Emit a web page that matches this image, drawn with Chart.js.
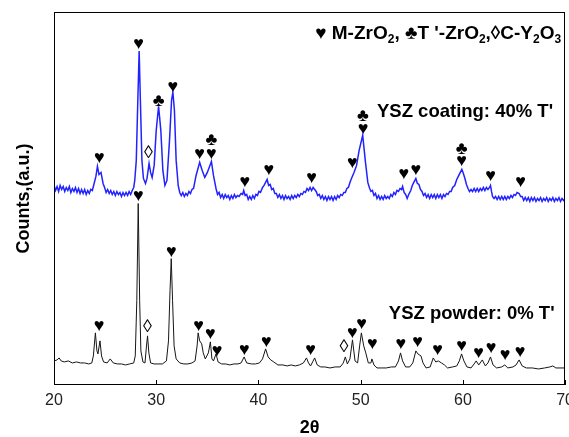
<!DOCTYPE html>
<html><head><meta charset="utf-8">
<script src="https://cdn.jsdelivr.net/npm/chart.js@4"></script>
<style>html,body{margin:0;padding:0;background:#fff;overflow:hidden}#wrap{width:580px;height:437px;position:relative}</style>
</head><body><div id="wrap"><canvas id="c"></canvas></div>
<script>
// x axis: 2θ (degrees); y axis: counts (a.u.)
const xTicks = [20, 30, 40, 50, 60, 70];

// YSZ coating (blue): [2θ, counts]
const coating = [[20.0,199],[20.15,194],[20.3,198],[20.45,193],[20.6,199],[20.75,195],[20.9,198],[21.05,193],[21.2,197],[21.35,194],[21.5,198],[21.65,192],[21.8,196],[21.95,193],[22.1,197],[22.25,192],[22.4,196],[22.55,191],[22.7,195],[22.85,191],[23.0,195],[23.15,190],[23.3,194],[23.45,191],[23.6,195],[23.75,194],[23.9,200],
[24.1,208],[24.25,218],[24.4,210],[24.6,212],[24.8,201],[24.95,197],
[25.1,192],[25.25,195],[25.4,191],[25.55,194],[25.7,190],[25.85,193],[26.0,189],[26.15,193],[26.3,190],[26.45,192],[26.6,188],[26.75,192],[26.9,189],[27.05,192],[27.2,189],[27.35,193],[27.5,190],[27.65,194],[27.8,197],[27.9,204],
[28.05,224],[28.2,284],[28.33,333],[28.45,284],[28.6,224],[28.75,206],[28.95,201],[29.1,206],[29.3,221],[29.45,212],[29.6,207],[29.8,219],[30.0,254],[30.23,278],[30.45,254],[30.65,214],[30.85,199],[31.05,204],[31.3,244],[31.5,284],[31.63,292],[31.78,274],[31.95,224],[32.15,199],
[32.3,192],[32.45,189],[32.6,192],[32.75,188],[32.9,191],[33.05,189],[33.2,193],[33.35,191],[33.5,195],[33.65,196],[33.9,209],[34.25,222],[34.5,214],[34.75,207],[35.0,212],[35.4,223],[35.6,209],[35.85,196],
[36.0,190],[36.15,192],[36.3,187],[36.45,190],[36.6,186],[36.75,190],[36.9,187],[37.05,189],[37.2,185],[37.35,189],[37.5,186],[37.65,190],[37.8,187],[37.95,189],[38.1,188],[38.3,191],[38.45,190],[38.56,194],[38.7,189],[38.85,190],[39.0,185],[39.15,188],[39.3,185],[39.45,189],[39.6,186],[39.75,190],[39.9,189],[40.05,193],[40.2,192],[40.4,197],[40.55,199],[40.7,202],[40.85,205],[41.0,199],[41.15,200],[41.3,195],[41.45,196],[41.6,191],[41.75,191],[41.9,187],[42.05,190],[42.2,186],[42.35,189],[42.5,185],[42.65,189],[42.8,186],[42.95,188],[43.1,185],[43.25,189],[43.4,186],[43.55,189],[43.7,187],[43.85,190],[44.0,188],[44.15,191],[44.3,190],[44.45,193],[44.6,192],[44.75,196],[44.9,194],[45.05,197],[45.2,194],[45.35,197],[45.5,195],[45.65,193],[45.8,189],[45.95,190],[46.1,186],[46.25,189],[46.4,185],[46.55,188],[46.7,184],[46.85,188],[47.0,185],[47.15,188],[47.3,184],[47.45,188],[47.6,185],[47.75,189],[47.9,187],[48.05,190],[48.2,189],[48.35,192],[48.5,192],[48.65,196],[48.8,197],[48.95,202],[49.1,206],[49.35,212],[49.6,219],[49.85,234],[50.2,249],[50.45,224],[50.7,202],[50.85,197],[51.0,193],[51.15,194],[51.3,189],[51.45,191],[51.6,186],[51.75,189],[51.9,185],[52.05,188],[52.2,185],[52.35,189],[52.5,186],[52.65,188],[52.8,186],[52.95,190],[53.1,188],[53.25,192],[53.4,190],[53.55,194],[53.7,193],[53.85,196],[54.0,195],[54.1,198],[54.25,192],[54.4,190],[54.55,186],[54.7,190],[54.9,194],[55.05,199],[55.2,202],[55.4,206],[55.55,201],[55.7,200],[55.85,195],[56.0,193],[56.15,189],[56.3,191],[56.45,187],[56.6,190],[56.75,186],[56.9,190],[57.05,187],[57.2,190],[57.35,186],[57.5,190],[57.65,187],[57.8,190],[57.95,186],[58.1,190],[58.25,188],[58.4,191],[58.55,190],[58.7,193],[58.85,193],[59.0,197],[59.2,199],[59.4,205],[59.6,209],[59.75,212],[59.9,215],[60.05,211],[60.2,206],[60.35,200],[60.5,196],[60.65,193],[60.8,195],[60.95,193],[61.1,196],[61.25,193],[61.4,196],[61.55,193],[61.7,196],[61.85,194],[62.0,197],[62.15,194],[62.3,197],[62.45,195],[62.6,197],[62.7,199],[62.8,193],[62.9,188],[63.05,186],[63.2,188],[63.35,185],[63.5,188],[63.65,185],[63.8,188],[63.95,185],[64.1,188],[64.25,185],[64.4,188],[64.55,186],[64.7,189],[64.85,187],[65.0,190],[65.15,189],[65.3,192],[65.5,191],[65.65,188],[65.8,188],[65.95,184],[66.1,187],[66.25,184],[66.4,187],[66.55,183],[66.7,187],[66.85,184],[67.0,187],[67.15,183],[67.3,186],[67.45,184],[67.6,187],[67.75,183],[67.9,186],[68.05,184],[68.2,187],[68.35,183],[68.5,186],[68.65,184],[68.8,187],[68.95,183],[69.1,186],[69.25,184],[69.4,187],[69.55,183],[69.7,186],[69.85,184],[70.0,186]];

// YSZ powder (black): [2θ, counts]
const powder = [[20.0,24],[20.3,25],[20.5,27],[20.7,24],[21.0,23],[21.4,24],[21.8,22],[22.2,23],[22.6,22],[23.0,22],[23.4,21],[23.7,22],[23.85,29],[24.05,52],[24.2,34],[24.3,31],[24.5,44],[24.65,29],[24.85,23],[25.2,22],[25.5,26],[25.8,22],[26.2,21],[26.6,21],[27.0,20],[27.4,21],[27.8,22],[27.95,29],[28.1,84],[28.24,181],[28.38,84],[28.5,34],[28.7,23],[28.9,22],[29.05,39],[29.15,49],[29.28,32],[29.45,22],[29.8,21],[30.2,21],[30.6,21],[31.0,24],[31.2,44],[31.35,94],[31.47,126],[31.6,84],[31.75,39],[31.95,26],[32.3,22],[32.7,21],[33.1,21],[33.5,22],[33.8,24],[34.0,39],[34.1,52],[34.25,44],[34.45,41],[34.6,32],[34.8,26],[35.1,32],[35.3,43],[35.45,26],[35.6,24],[35.85,31],[36.05,23],[36.4,21],[36.8,21],[37.2,20],[37.6,21],[38.0,21],[38.3,22],[38.6,28],[38.85,22],[39.3,21],[39.7,21],[40.1,22],[40.4,26],[40.7,36],[40.95,28],[41.2,25],[41.5,23],[41.9,20],[42.4,20],[42.8,19],[43.2,20],[43.6,19],[44.0,20],[44.4,22],[44.7,27],[44.9,22],[45.1,19],[45.3,23],[45.5,27],[45.75,20],[46.1,18],[46.5,18],[47.0,17],[47.5,18],[48.0,18],[48.3,22],[48.5,28],[48.7,21],[48.95,26],[49.2,45],[49.45,24],[49.7,22],[49.9,39],[50.07,52],[50.3,39],[50.5,32],[50.75,22],[51.0,22],[51.1,26],[51.3,20],[51.6,17],[52.0,17],[52.5,17],[53.0,18],[53.4,18],[53.7,24],[53.9,32],[54.1,24],[54.4,18],[54.8,18],[55.1,22],[55.4,34],[55.6,31],[55.9,29],[56.1,22],[56.4,17],[56.8,18],[57.1,27],[57.35,23],[57.6,24],[57.9,22],[58.2,20],[58.5,17],[59.0,18],[59.4,19],[59.65,24],[59.87,31],[60.1,24],[60.4,18],[60.8,17],[61.1,21],[61.3,24],[61.55,20],[61.9,25],[62.2,19],[62.45,22],[62.7,28],[62.95,20],[63.3,17],[63.8,18],[64.1,20],[64.4,17],[64.9,18],[65.2,20],[65.5,25],[65.8,19],[66.2,17],[66.8,17],[67.4,16],[68.0,17],[68.5,18],[68.8,19],[69.1,17],[69.6,17],[70.0,17]];

// phase markers: [symbol, 2θ, counts]
const coatingMarks = [["♥",24.44,226],["♥",28.28,340],["◊",29.25,231],["♣",30.23,283],["♥",31.62,297],["♥",34.25,230],["♣",35.39,244.5],["♥",35.39,230],["♥",38.68,202],["♥",41.01,214.5],["♥",45.2,206],["♥",49.19,221.3],["♣",50.23,268.5],["♥",50.23,255.5],["♥",54.22,210],["♥",55.39,214.5],["♣",59.87,235],["♥",59.87,223.3],["♥",62.7,208],["♥",65.64,202]];
const powderMarks = [["♥",24.41,59],["♥",28.24,188],["◊",29.15,58],["♥",31.47,133],["♥",34.15,59],["♥",35.29,51],["♥",35.95,34],["♥",38.63,35],["♥",40.78,43],["♥",45.1,35],["◊",48.36,37.5],["♥",49.19,52.3],["♥",50.1,60.7],["♥",51.15,41.3],["♥",53.92,40.7],["♥",55.56,43],["♥",57.52,35],["♥",59.87,39],["♥",61.54,32],["♥",62.75,37.3],["♥",64.12,30],["♥",65.59,33.3]];

// series labels: [text, right-end 2θ, baseline counts]
const seriesLabels = [["YSZ coating: 40% T'", 68.82, 267], ["YSZ powder: 0% T'", 68.97, 66]];

// phase key: [text, isSubscript]
const keyParts = [["♥ M-ZrO",false],["2",true],[", ",false],["♣",false],["T '-ZrO",false],["2",true],[",",false],["◊",false],["C-Y",false],["2",true],["O",false],["3",true]];

const FONT = "'Liberation Sans', Arial, sans-serif";

const decor = {
  id: 'decor',
  afterDatasetsDraw(chart) {
    const {ctx, chartArea: a, scales: {x, y}} = chart;
    ctx.save();
    ctx.strokeStyle = '#000';
    ctx.lineWidth = 1;
    ctx.strokeRect(Math.round(a.left) + 0.5, Math.round(a.top) + 0.5, Math.round(a.right - a.left) - 1, Math.round(a.bottom - a.top) - 1);
    ctx.beginPath();
    xTicks.forEach(v => {
      const px = Math.round(x.getPixelForValue(v)) + 0.5;
      ctx.moveTo(px, a.bottom);
      ctx.lineTo(px, a.bottom - 5);
    });
    ctx.stroke();
    ctx.fillStyle = '#000';
    ctx.textAlign = 'center';
    ctx.textBaseline = 'middle';
    [...coatingMarks, ...powderMarks].forEach(([s, t, c]) => {
      ctx.font = (s === '◊' ? '18px ' : 'bold 18px ') + FONT;
      ctx.fillText(s, x.getPixelForValue(t), y.getPixelForValue(c));
    });
    ctx.font = 'bold 18.5px ' + FONT;
    ctx.textAlign = 'right';
    ctx.textBaseline = 'alphabetic';
    seriesLabels.forEach(([s, t, c]) => ctx.fillText(s, x.getPixelForValue(t), y.getPixelForValue(c)));
    const big = 'bold 19px ' + FONT, small = 'bold 12px ' + FONT;
    let w = 0;
    keyParts.forEach(([s, sub]) => { ctx.font = sub ? small : big; w += ctx.measureText(s).width; });
    let cx = a.right - 4 - w;
    const by = a.top + 27;
    ctx.textAlign = 'left';
    keyParts.forEach(([s, sub]) => {
      ctx.font = sub ? small : big;
      ctx.fillText(s, cx, sub ? by + 4 : by);
      cx += ctx.measureText(s).width;
    });
    ctx.restore();
  }
};

new Chart(document.getElementById('c'), {
  type: 'line',
  data: {
    datasets: [
      { label: 'YSZ coating', data: coating.map(([t, c]) => ({x: t, y: c})), borderColor: '#2222ff', borderWidth: 1.5, pointRadius: 0, tension: 0 },
      { label: 'YSZ powder', data: powder.map(([t, c]) => ({x: t, y: c})), borderColor: '#151515', borderWidth: 1, pointRadius: 0, tension: 0 }
    ]
  },
  options: {
    responsive: true,
    maintainAspectRatio: false,
    animation: false,
    events: [],
    layout: { padding: { top: 12, left: 11, right: 0, bottom: 0 } },
    plugins: { legend: { display: false }, tooltip: { enabled: false } },
    scales: {
      x: {
        type: 'linear', min: 20, max: 70,
        afterBuildTicks: s => { s.ticks = xTicks.map(v => ({value: v})); },
        ticks: { font: { family: FONT, size: 16 }, color: '#222', padding: 6, autoSkip: false, maxRotation: 0 },
        grid: { display: false, drawTicks: false },
        border: { display: false },
        title: { display: true, text: '2θ', color: '#000', font: { family: FONT, size: 18, weight: 'bold', lineHeight: 1 }, padding: { top: 2.8, bottom: 0 } }
      },
      y: {
        min: 0, max: 372,
        ticks: { display: false },
        grid: { display: false, drawTicks: false },
        border: { display: false },
        title: { display: true, text: 'Counts,(a.u.)', color: '#000', font: { family: FONT, size: 18, weight: 'bold', lineHeight: 1 }, padding: { top: 4, bottom: 21 } }
      }
    }
  },
  plugins: [decor]
});
</script>
</body></html>
